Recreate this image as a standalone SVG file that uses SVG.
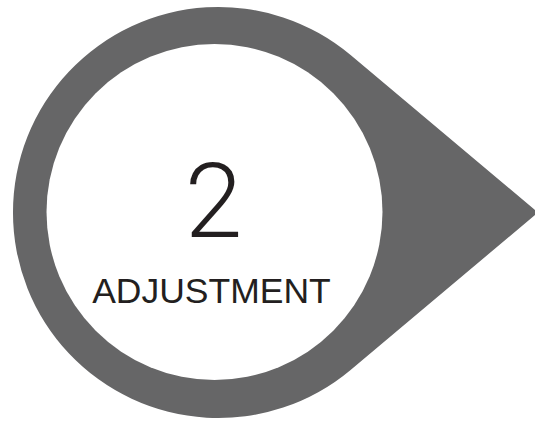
<svg xmlns="http://www.w3.org/2000/svg" width="535" height="422" viewBox="0 0 535 422">
<style>
.shape{fill:#666667}
.inner{fill:#ffffff}
.num{font-family:Roboto,"Liberation Sans",sans-serif;font-weight:300;font-size:104px;fill:#231f20;text-anchor:middle}
.lbl{font-family:"Liberation Sans",Arial,sans-serif;font-size:35.5px;fill:#231f20;text-anchor:middle}
</style>
<rect width="535" height="422" fill="#ffffff"/>
<g id="node-adjustment">
<path class="shape" d="M 538 212.5 L 350.6 55.1 A 205.5 205.5 0 1 0 350.6 369.9 Z"/>
<circle class="inner" cx="214.5" cy="212" r="168"/>
<text class="num" x="213.5" y="237">2</text>
<text class="lbl" x="211.5" y="303">ADJUSTMENT</text>
</g>
<g id="connectors"></g>
</svg>
